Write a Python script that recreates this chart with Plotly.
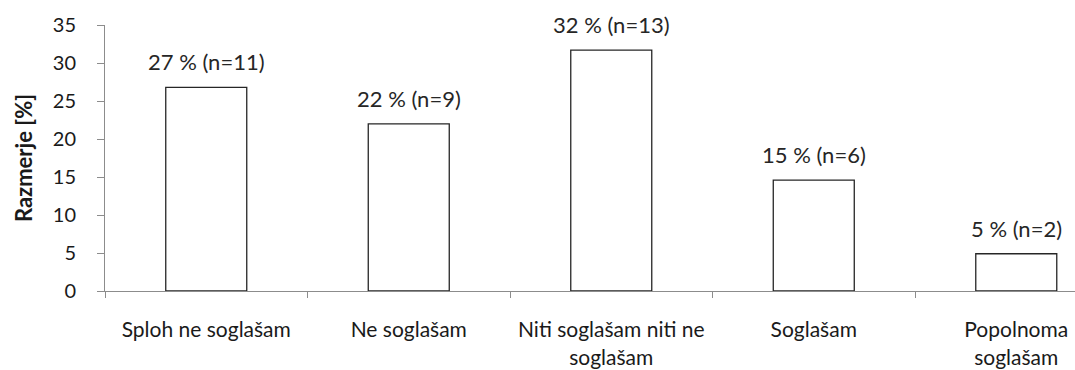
import plotly.graph_objects as go

categories = ["Sploh ne soglašam", "Ne soglašam", "Niti soglašam niti ne<br>soglašam",
              "Soglašam", "Popolnoma<br>soglašam"]
shares = [26.8, 22.0, 31.7, 14.6, 4.9]   # percent
counts = [11, 9, 13, 6, 2]
y_ticks = [0, 5, 10, 15, 20, 25, 30, 35]

FONT = "Lato, 'Open Sans', sans-serif"
AXIS_GREY = "#8c8c8c"
TEXT = "#1a1a1a"

labels = [f"{round(v)} % (n={n})" for v, n in zip(shares, counts)]

fig = go.Figure(go.Bar(
    x=categories, y=shares,
    width=0.4,
    marker=dict(color="white", line=dict(color="#262626", width=1.3)),
    hoverinfo="skip",
))

for c, v, t in zip(categories, shares, labels):
    fig.add_annotation(x=c, y=v, text=t, showarrow=False, yanchor="bottom",
                       yshift=10, font=dict(family=FONT, size=22, color="#262626"))

fig.update_layout(
    width=1075, height=370,
    margin=dict(l=105, r=0, t=25, b=79),
    paper_bgcolor="white", plot_bgcolor="white",
    showlegend=False,
    font=dict(family=FONT, color=TEXT),
    xaxis=dict(
        type="category", range=[-0.5, 4.29],
        showline=True, linecolor=AXIS_GREY, linewidth=1,
        ticks="outside", tickson="boundaries", ticklen=6, tickcolor=AXIS_GREY,
        tickfont=dict(family=FONT, size=21, color=TEXT),
        ticklabelstandoff=20, showgrid=False,
    ),
    yaxis=dict(
        range=[0, 35], tickvals=y_ticks,
        showline=True, linecolor=AXIS_GREY, linewidth=1,
        ticks="outside", ticklen=7, tickcolor=AXIS_GREY,
        tickfont=dict(family=FONT, size=20, color=TEXT),
        ticklabelstandoff=17,
        showgrid=False, zeroline=False,
        title=dict(text="<b>Razmerje [%]</b>", standoff=14,
                   font=dict(family=FONT, size=22, color=TEXT)),
    ),
)

fig.write_html("out.html")
